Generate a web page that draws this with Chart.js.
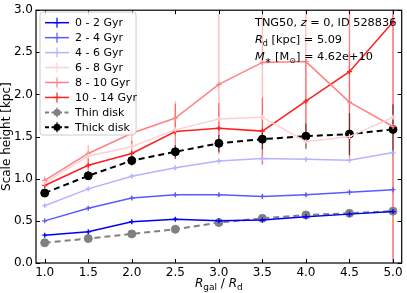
<!DOCTYPE html>
<html>
<head>
<meta charset="utf-8">
<script src="https://cdn.jsdelivr.net/npm/chart.js@4"></script>
<style>
    html, body { margin: 0; padding: 0; background: #fff; }
    #wrap { width: 407px; height: 293px; }
</style>
</head>
<body>
<div id="wrap"><canvas id="scaleChart" width="407" height="293"></canvas></div>
<script>
// radial bins (R_gal / R_d)
const radii = [1.0, 1.5, 2.0, 2.5, 3.0, 3.5, 4.0, 4.5, 5.0];
const xTicks = [1.0, 1.5, 2.0, 2.5, 3.0, 3.5, 4.0, 4.5, 5.0];
const yTicks = [0.0, 0.5, 1.0, 1.5, 2.0, 2.5, 3.0];

// scale heights [kpc] per age bin
const age0to2 = [0.33, 0.37, 0.49, 0.52, 0.50, 0.51, 0.55, 0.58, 0.61];
const age2to4 = [0.50, 0.65, 0.77, 0.81, 0.81, 0.79, 0.81, 0.84, 0.87];
const age4to6 = [0.68, 0.88, 1.03, 1.13, 1.21, 1.24, 1.23, 1.22, 1.31];
const age6to8 = [0.95, 1.27, 1.38, 1.58, 1.71, 1.73, 1.44, 1.50, 1.73];
const age8to10 = [0.98, 1.30, 1.54, 1.72, 2.12, 2.38, 2.39, 1.91, 1.62];
const age10to14 = [0.92, 1.16, 1.30, 1.56, 1.60, 1.565, 1.92, 2.27, 2.86];
const thinDisk = [0.24, 0.29, 0.345, 0.40, 0.48, 0.53, 0.57, 0.59, 0.615];
const thickDisk = [0.83, 1.035, 1.215, 1.32, 1.42, 1.47, 1.505, 1.53, 1.585];

// error bars (half-widths)
const err0to2 = [0.01, 0.01, 0.02, 0.02, 0.02, 0.02, 0.02, 0.02, 0.02];
const err2to4 = [0.01, 0.02, 0.02, 0.02, 0.02, 0.02, 0.02, 0.03, 0.03];
const err4to6 = [0.02, 0.02, 0.03, 0.03, 0.03, 0.03, 0.03, 0.03, 0.04];
const err6to8 = [0.03, 0.05, 0.06, 0.08, 0.1, 0.1, 0.1, 0.1, 0.15];
const err8to10 = [0.05, 0.1, 0.12, 0.2, 0.83, 1.2, 1.0, 0.6, 1.7];
const err10to14 = [0.04, 0.08, 0.15, 0.33, 0.3, 0.4, 0.5, 1.02, 2.9];
const errThin = [0.01, 0.01, 0.02, 0.02, 0.02, 0.02, 0.02, 0.02, 0.02];
const errThick = [0.03, 0.04, 0.05, 0.08, 0.1, 0.12, 0.15, 0.25, 0.3];

const labels = ["0 - 2 Gyr", "2 - 4 Gyr", "4 - 6 Gyr", "6 - 8 Gyr", "8 - 10 Gyr", "10 - 14 Gyr", "Thin disk", "Thick disk"];
const colors = ["#0000ff", "#5a5aff", "#b4b4ff", "#ffd0d0", "#ff8282", "#ff1f1f", "#808080", "#000000"];
const values = [age0to2, age2to4, age4to6, age6to8, age8to10, age10to14, thinDisk, thickDisk];
const errors = [err0to2, err2to4, err4to6, err6to8, err8to10, err10to14, errThin, errThick];

function pts(ys) {
    return radii.map((x, i) => ({ x: x, y: ys[i] }));
}

document.addEventListener("DOMContentLoaded", function () {
    const ctx = document.getElementById("scaleChart");

    const datasets = values.map((ys, k) => {
        const disk = k >= 6;
        return {
            label: labels[k],
            data: pts(ys),
            errs: errors[k],
            borderColor: colors[k],
            backgroundColor: colors[k],
            borderWidth: disk ? 2 : 1.5,
            borderDash: disk ? [6, 4] : [],
            pointStyle: disk ? "circle" : "cross",
            pointRadius: disk ? 4 : 2.5,
            pointBorderWidth: disk ? 1 : 1.3,
            pointBorderColor: colors[k],
            pointBackgroundColor: colors[k],
            tension: 0,
        };
    });

    // vertical error bars
    const errorBars = {
        id: "errorBars",
        beforeDatasetsDraw(chart) {
            const c = chart.ctx, xs = chart.scales.x, ys = chart.scales.y, a = chart.chartArea;
            c.save();
            c.beginPath();
            c.rect(a.left, a.top, a.right - a.left, a.bottom - a.top);
            c.clip();
            chart.data.datasets.forEach((ds) => {
                c.strokeStyle = ds.borderColor;
                c.lineWidth = 1.3;
                c.globalAlpha = 0.55;
                ds.data.forEach((p, i) => {
                    const e = ds.errs[i];
                    const px = xs.getPixelForValue(p.x);
                    c.beginPath();
                    c.moveTo(px, ys.getPixelForValue(p.y - e));
                    c.lineTo(px, ys.getPixelForValue(p.y + e));
                    c.stroke();
                });
            });
            c.restore();
        },
    };

    // frame, inward ticks, legend, text
    const decorations = {
        id: "decorations",
        afterDraw(chart) {
            const c = chart.ctx, xs = chart.scales.x, ys = chart.scales.y, a = chart.chartArea;
            c.save();
            c.strokeStyle = "#000";
            c.lineWidth = 1.2;
            c.strokeRect(a.left, a.top, a.right - a.left, a.bottom - a.top);
            c.beginPath();
            xTicks.forEach((v) => {
                const px = Math.round(xs.getPixelForValue(v)) + 0.5;
                c.moveTo(px, a.bottom); c.lineTo(px, a.bottom - 4);
                c.moveTo(px, a.top); c.lineTo(px, a.top + 4);
            });
            yTicks.forEach((v) => {
                const py = Math.round(ys.getPixelForValue(v)) + 0.5;
                c.moveTo(a.left, py); c.lineTo(a.left + 4, py);
                c.moveTo(a.right, py); c.lineTo(a.right - 4, py);
            });
            c.lineWidth = 1;
            c.stroke();

            // x axis title: R_gal / R_d
            const base = 287;
            const f = "DejaVu Sans";
            let parts = [
                ["italic 12px " + f, "R", 0],
                ["9px " + f, "gal", 3],
                ["12px " + f, " / ", 0],
                ["italic 12px " + f, "R", 0],
                ["9px " + f, "d", 3],
            ];
            let w = 0;
            parts.forEach((p) => { c.font = p[0]; w += c.measureText(p[1]).width; });
            let x = (a.left + a.right) / 2 - w / 2;
            c.fillStyle = "#000";
            c.textBaseline = "alphabetic";
            c.textAlign = "left";
            parts.forEach((p) => {
                c.font = p[0];
                c.fillText(p[1], x, base + p[2]);
                x += c.measureText(p[1]).width;
            });

            // info text top right
            const lines = [
                [["11.3px " + f, "TNG50, ", 0], ["italic 11.3px " + f, "z", 0], ["11.3px " + f, " = 0, ID 528836", 0]],
                [["italic 11.3px " + f, "R", 0], ["8px " + f, "d", 3], ["11.3px " + f, " [kpc] = 5.09", 0]],
                [["italic 11.3px " + f, "M", 0], ["8px " + f, "\u2217", 3], ["11.3px " + f, " [M", 0], ["8px " + f, "\u2299", 3], ["11.3px " + f, "] = 4.62e+10", 0]],
            ];
            const bases = [26, 43, 60];
            lines.forEach((ln, j) => {
                let xx = 255;
                ln.forEach((p) => {
                    c.font = p[0];
                    c.fillText(p[1], xx, bases[j] + p[2]);
                    xx += c.measureText(p[1]).width;
                });
            });

            // legend box
            const lx = 40, ly = 12, lw = 96, lh = 123;
            c.beginPath();
            c.roundRect(lx, ly, lw, lh, 3);
            c.fillStyle = "rgba(255,255,255,0.8)";
            c.fill();
            c.strokeStyle = "#cccccc";
            c.lineWidth = 1;
            c.stroke();
            chart.data.datasets.forEach((ds, k) => {
                const cy = 22.7 + k * 14.95;
                const disk = k >= 6;
                c.strokeStyle = ds.borderColor;
                c.fillStyle = ds.borderColor;
                c.lineWidth = ds.borderWidth;
                c.setLineDash(disk ? [4, 2.5] : []);
                c.beginPath();
                c.moveTo(45, cy); c.lineTo(69, cy);
                c.stroke();
                c.setLineDash([]);
                c.lineWidth = 1.2;
                c.beginPath();
                c.moveTo(57, cy - 5); c.lineTo(57, cy + 5);
                c.stroke();
                if (disk) {
                    c.beginPath();
                    c.arc(57, cy, 3.5, 0, Math.PI * 2);
                    c.fill();
                } else {
                    c.beginPath();
                    c.moveTo(54.5, cy); c.lineTo(59.5, cy);
                    c.stroke();
                }
                c.fillStyle = "#000";
                c.font = "11px " + f;
                c.textBaseline = "middle";
                c.fillText(ds.label, 75, cy + 0.5);
                c.textBaseline = "alphabetic";
            });
            c.restore();
        },
    };

    new Chart(ctx, {
        type: "line",
        data: { datasets: datasets },
        options: {
            responsive: false,
            animation: false,
            layout: { padding: { top: 8, right: 4, left: 0, bottom: 0 } },
            plugins: {
                legend: { display: false },
                tooltip: { enabled: false },
            },
            scales: {
                x: {
                    type: "linear",
                    min: 0.9,
                    max: 5.1,
                    afterBuildTicks: (s) => { s.ticks = xTicks.map((v) => ({ value: v })); },
                    afterFit: (s) => { s.height = 30; },
                    grid: { display: false, drawTicks: false },
                    border: { display: false },
                    ticks: {
                        padding: 3,
                        color: "#000",
                        font: { family: "DejaVu Sans", size: 12 },
                        callback: (v) => Number(v).toFixed(1),
                    },
                },
                y: {
                    type: "linear",
                    min: 0,
                    max: 3,
                    afterBuildTicks: (s) => { s.ticks = yTicks.map((v) => ({ value: v })); },
                    afterFit: (s) => { s.width = 36; },
                    grid: { display: false, drawTicks: false },
                    border: { display: false },
                    ticks: {
                        padding: 3,
                        color: "#000",
                        font: { family: "DejaVu Sans", size: 12 },
                        callback: (v) => Number(v).toFixed(1),
                    },
                    title: {
                        display: true,
                        text: "Scale height [kpc]",
                        color: "#000",
                        padding: { top: 0, bottom: 0 },
                        font: { family: "DejaVu Sans", size: 12 },
                    },
                },
            },
        },
        plugins: [errorBars, decorations],
    });
});
</script>
</body>
</html>
